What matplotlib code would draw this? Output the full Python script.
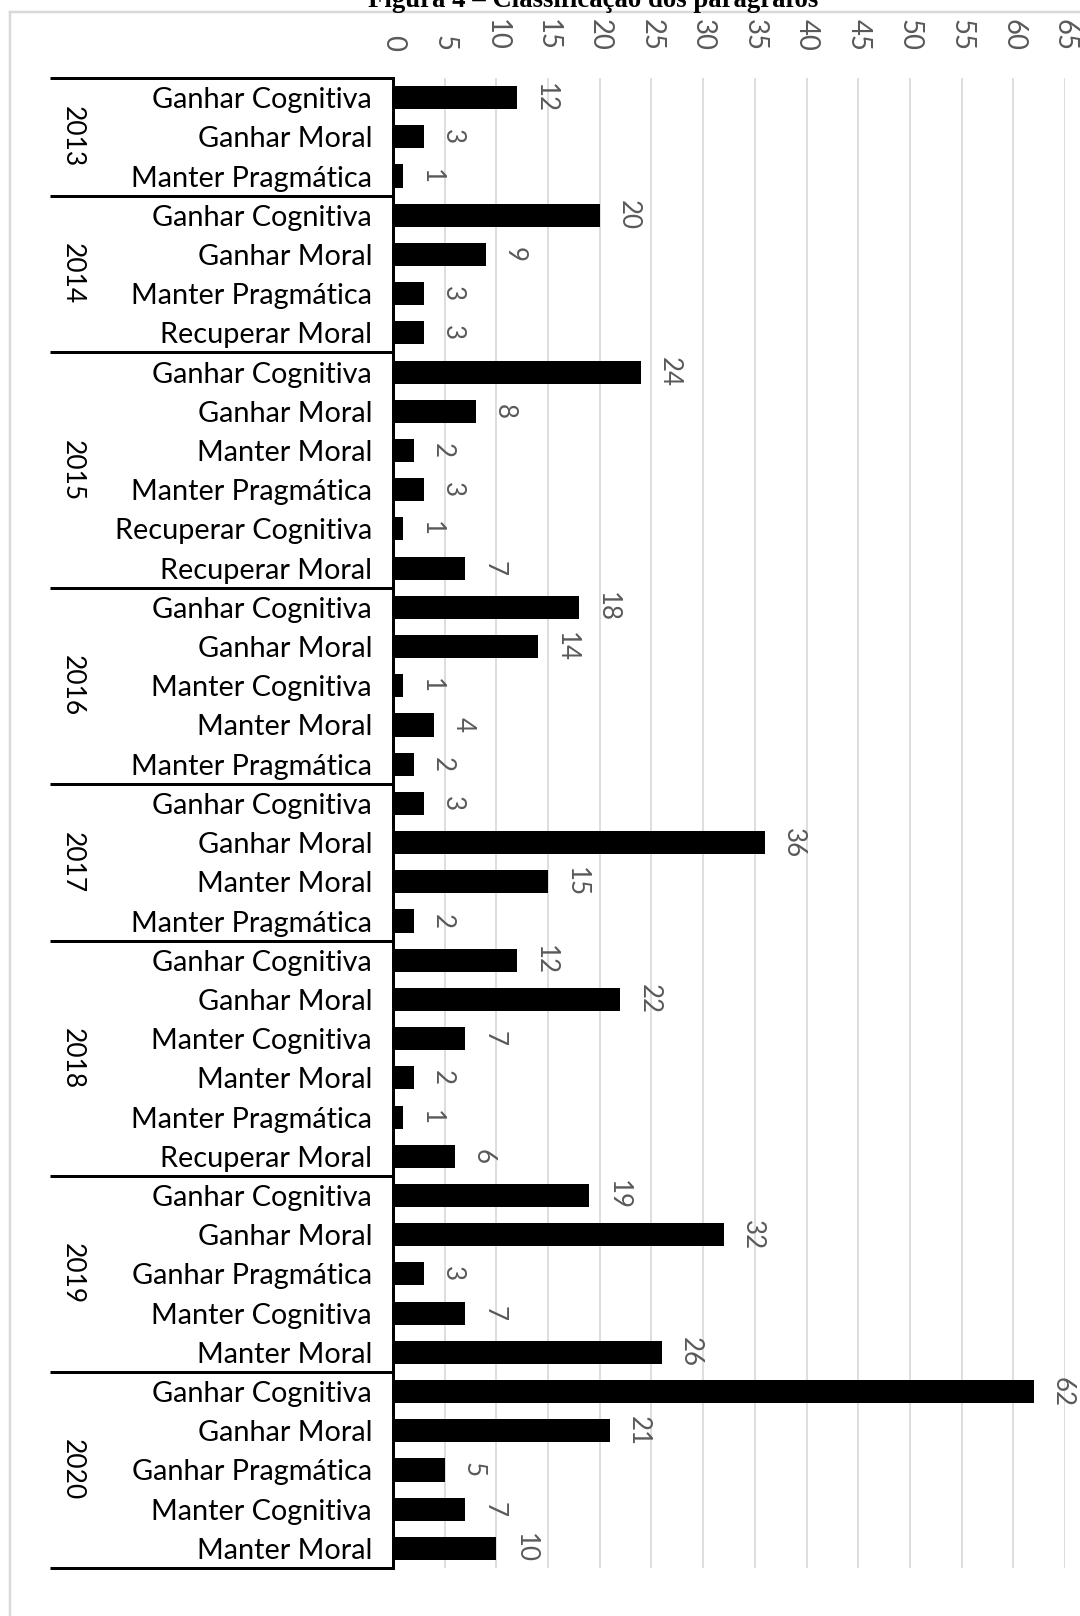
import matplotlib
matplotlib.use("Agg")
import matplotlib.pyplot as plt
from matplotlib.lines import Line2D
from matplotlib.transforms import blended_transform_factory

# ---------------- data ----------------
years = ["2013", "2014", "2015", "2016", "2017", "2018", "2019", "2020"]
group_sizes = [3, 4, 6, 5, 4, 6, 5, 5]
categories = [
    "Ganhar Cognitiva", "Ganhar Moral", "Manter Pragmática",
    "Ganhar Cognitiva", "Ganhar Moral", "Manter Pragmática", "Recuperar Moral",
    "Ganhar Cognitiva", "Ganhar Moral", "Manter Moral", "Manter Pragmática",
    "Recuperar Cognitiva", "Recuperar Moral",
    "Ganhar Cognitiva", "Ganhar Moral", "Manter Cognitiva", "Manter Moral",
    "Manter Pragmática",
    "Ganhar Cognitiva", "Ganhar Moral", "Manter Moral", "Manter Pragmática",
    "Ganhar Cognitiva", "Ganhar Moral", "Manter Cognitiva", "Manter Moral",
    "Manter Pragmática", "Recuperar Moral",
    "Ganhar Cognitiva", "Ganhar Moral", "Ganhar Pragmática", "Manter Cognitiva",
    "Manter Moral",
    "Ganhar Cognitiva", "Ganhar Moral", "Ganhar Pragmática", "Manter Cognitiva",
    "Manter Moral",
]
values = [
    12, 3, 1,
    20, 9, 3, 3,
    24, 8, 2, 3, 1, 7,
    18, 14, 1, 4, 2,
    3, 36, 15, 2,
    12, 22, 7, 2, 1, 6,
    19, 32, 3, 7, 26,
    62, 21, 5, 7, 10,
]
x_ticks = list(range(0, 66, 5))
title = "Figura 4 – Classificação dos parágrafos"

# ---------------- figure ----------------
W, H = 1080, 1616
DPI = 100
fig = plt.figure(figsize=(W / DPI, H / DPI), dpi=DPI)
renderer = fig.canvas.get_renderer()
PX = 72.0 / DPI  # points per pixel

SANS = ["Lato", "DejaVu Sans"]
GRAY = "#595959"
GRID = "#d9d9d9"


def fit_size(text, target_px, family, weight="normal", base=20.0):
    t = fig.text(0, 0, text, fontsize=base, family=family, weight=weight)
    w = t.get_window_extent(renderer).width
    t.remove()
    return base * target_px / w


cat_fs = fit_size("Manter Pragmática", 242, SANS)
val_fs = fit_size("12", 30, SANS)
tick_fs = fit_size("65", 32, SANS)
year_fs = fit_size("2013", 61, SANS)
title_fs = fit_size(title, 449, ["Liberation Serif"], weight="bold")

# axes placement (pixels)
x0, x1 = 393, 1065
y_top, y_bot = 78, 1568
ax = fig.add_axes([x0 / W, (H - y_bot) / H, (x1 - x0) / W, (y_bot - y_top) / H])

n = len(values)
pos = list(range(n))
ax.barh(pos, values, height=0.59, color="black", zorder=3)
ax.set_ylim(n - 0.5, -0.5)
ax.set_xlim(0, 65)

# gridlines
ax.set_xticks(x_ticks)
ax.xaxis.tick_top()
ax.grid(axis="x", color=GRID, linewidth=1.7 * PX, zorder=0)
ax.set_axisbelow(True)
ax.tick_params(axis="x", length=0, pad=27 * PX, labelsize=tick_fs,
               labelcolor=GRAY, labelrotation=-90)
for lab in ax.get_xticklabels():
    lab.set_family(SANS)
    lab.set_va("bottom")

ax.set_yticks(pos)
ax.set_yticklabels(categories, family=SANS, fontsize=cat_fs, color="black")
ax.tick_params(axis="y", length=0, pad=21 * PX)

for s in ["top", "right", "bottom"]:
    ax.spines[s].set_visible(False)
ax.spines["left"].set_color("black")
ax.spines["left"].set_linewidth(3 * PX)
ax.spines["left"].set_zorder(4)

# value labels
for i, v in enumerate(values):
    ax.annotate(str(v), xy=(v, i), xytext=(16 * PX, 0), textcoords="offset points",
                rotation=-90, ha="left", va="center", color=GRAY,
                fontsize=val_fs, family=SANS)

# group separators and year labels
trans = blended_transform_factory(ax.transAxes, ax.transData)
sep_x = (50 - x0) / (x1 - x0)
year_x = (72 - x0) / (x1 - x0)
start = 0
boundaries = [-0.5]
for yr, g in zip(years, group_sizes):
    end = start + g
    boundaries.append(end - 0.5)
    ax.text(year_x, (start + end - 1) / 2.0, yr, transform=trans, rotation=-90,
            ha="center", va="center", fontsize=year_fs, family=SANS, color="black")
    start = end
for b in boundaries:
    ax.plot([sep_x, 0], [b, b], transform=trans, color="black",
            linewidth=3 * PX, clip_on=False, solid_capstyle="butt", zorder=5)

# outer chart border (left and top edges visible)
fig.add_artist(Line2D([10 / W, 10 / W], [0, (H - 12) / H], color=GRID, linewidth=2.5 * PX))
fig.add_artist(Line2D([10 / W, 1], [(H - 12) / H, (H - 12) / H], color=GRID, linewidth=2.5 * PX))

# title (cut off at top, as in the reference)
fig.text(593 / W, (H - 7) / H, title, ha="center", va="baseline",
         fontsize=title_fs, family=["Liberation Serif"], weight="bold", color="black")

fig.savefig("out.png", dpi=DPI)
